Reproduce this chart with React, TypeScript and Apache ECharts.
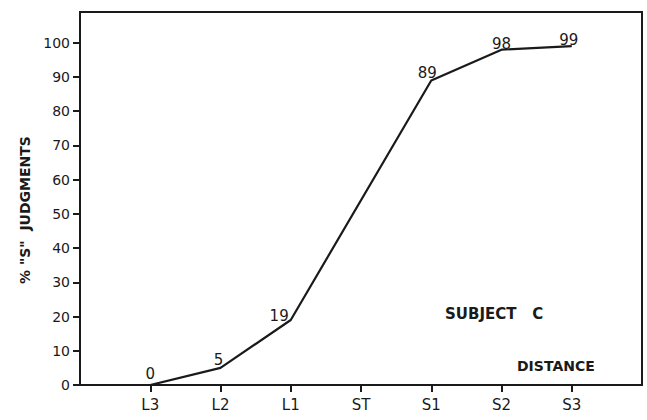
import React, { useEffect, useRef } from "react";
import * as echarts from "echarts";

const categories = ["", "L3", "L2", "L1", "ST", "S1", "S2", "S3", ""];
const values: (number | null)[] = [null, 0, 5, 19, null, 89, 98, 99, null];
const yTickValues = [0, 10, 20, 30, 40, 50, 60, 70, 80, 90, 100];
const yAxisTitle = '% "S"  JUDGMENTS';
const subjectText = "SUBJECT   C";
const xAxisTitle = "DISTANCE";

const INK = "#1a1a1a";
const FONT = "DejaVu Sans";

export default function App() {
  const ref = useRef<HTMLDivElement>(null);
  useEffect(() => {
    document.body.style.margin = "0";
    if (!ref.current) return;
    const chart = echarts.init(ref.current, undefined, { renderer: "svg" });
    const labelTweaks: Record<string, any> = {
      L3: { position: "top", distance: 3 },
      L2: { position: "top", distance: 0, offset: [-2, 0] },
      L1: { position: "left", distance: 2, offset: [0, -4] },
      S1: { position: "top", distance: 0, offset: [-4, 0] },
      S2: { position: "top", distance: 0, offset: [0, 2] },
      S3: { position: "top", distance: 0, offset: [-3, 1] },
    };
    const data = values.map((v, i) => {
      const t = labelTweaks[categories[i]];
      return t ? { value: v, label: { show: true, ...t } } : { value: v, label: { show: false } };
    });
    chart.setOption({
      animation: false,
      backgroundColor: "#ffffff",
      grid: {
        left: 80,
        right: 5,
        top: 12,
        bottom: 35,
        show: true,
        borderColor: INK,
        borderWidth: 2,
        backgroundColor: "transparent",
        outerBoundsMode: "none",
      },
      xAxis: {
        type: "category",
        data: categories,
        boundaryGap: false,
        axisLine: { show: true, lineStyle: { color: INK, width: 2 } },
        axisTick: {
          show: true,
          length: 7,
          lineStyle: { color: INK, width: 2 },
          interval: (index: number) => index > 0 && index < categories.length - 1,
        },
        axisLabel: {
          color: INK,
          fontFamily: FONT,
          fontSize: 15,
          margin: 12,
          interval: 0,
        },
        splitLine: { show: false },
      },
      yAxis: {
        type: "value",
        position: "left",
        min: 0,
        max: 109,
        interval: 10,
        axisLine: { show: true, lineStyle: { color: INK, width: 2 } },
        axisTick: {
          show: true,
          inside: false,
          length: 7,
          lineStyle: { color: INK, width: 2 },
        },
        axisLabel: {
          color: INK,
          fontFamily: FONT,
          fontSize: 14,
          margin: 10,
          showMaxLabel: false,
          formatter: (v: number) => (yTickValues.includes(v) ? String(v) : ""),
        },
        splitLine: { show: false },
      },
      series: [
        {
          type: "line",
          data,
          connectNulls: true,
          symbol: "circle",
          symbolSize: 0.1,
          showSymbol: true,
          itemStyle: { color: INK, opacity: 0 },
          lineStyle: { color: INK, width: 2.2, opacity: 1 },
          label: {
            show: true,
            color: INK,
            fontFamily: FONT,
            fontSize: 15,
            opacity: 1,
            formatter: (p: any) => String(p.value),
          },
        },
      ],
      graphic: [
        {
          type: "text",
          x: 25,
          y: 210,
          rotation: Math.PI / 2,
          style: {
            text: yAxisTitle,
            fill: INK,
            font: `bold 14px "${FONT}"`,
            textAlign: "center",
            textVerticalAlign: "middle",
          },
        },
        {
          type: "text",
          x: 445,
          y: 314,
          style: {
            text: subjectText,
            fill: INK,
            font: `bold 15px "${FONT}"`,
            textAlign: "left",
            textVerticalAlign: "middle",
          },
        },
        {
          type: "text",
          x: 517,
          y: 366,
          style: {
            text: xAxisTitle,
            fill: INK,
            font: `bold 14px "${FONT}"`,
            textAlign: "left",
            textVerticalAlign: "middle",
          },
        },
      ],
    });
    return () => chart.dispose();
  }, []);
  return <div ref={ref} style={{ width: 647, height: 420 }} />;
}
